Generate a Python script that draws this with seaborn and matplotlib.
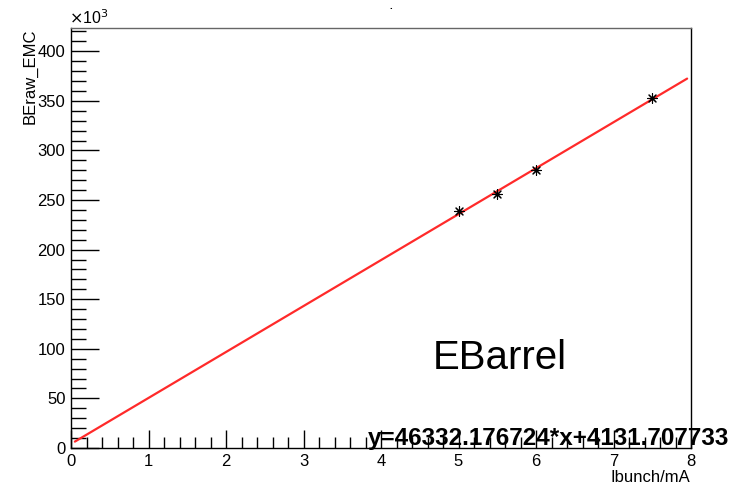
import numpy as np
import pandas as pd
import seaborn as sns
import matplotlib
matplotlib.use("Agg")
import matplotlib.pyplot as plt
from matplotlib.ticker import MultipleLocator, FuncFormatter

sns.set_theme(style="white")
plt.rcParams["font.family"] = ["Liberation Sans", "DejaVu Sans"]
plt.rcParams["text.color"] = "black"
plt.rcParams["xtick.color"] = "black"
plt.rcParams["ytick.color"] = "black"

# Measured points: bunch current (mA) vs raw EMC barrel rate
ibunch = [5.0, 5.5, 6.0, 7.5]
braw = [239000, 256500, 280500, 352500]

# Linear fit parameters
slope = 46332.176724
intercept = 4131.707733
fit_range = [0.05, 7.95]

fit_x = np.linspace(fit_range[0], fit_range[1], 200)
fit_df = pd.DataFrame({"x": fit_x, "y": slope * fit_x + intercept})
pts = pd.DataFrame({"x": ibunch, "y": braw})

fig = plt.figure(figsize=(7.35, 4.87), dpi=100)
ax = fig.add_axes([71 / 735, 1 - 448 / 487, 620 / 735, 420 / 487])

sns.lineplot(data=fit_df, x="x", y="y", ax=ax, color="#ff2a2a", lw=1.6, zorder=2)
sns.scatterplot(data=pts, x="x", y="y", ax=ax, marker=(8, 2, 0), s=50,
                color="black", edgecolor="black", linewidth=0.8, zorder=3)

ax.set_xlim(0, 8)
ax.set_ylim(0, 423500)

ax.xaxis.set_major_locator(MultipleLocator(1))
ax.xaxis.set_minor_locator(MultipleLocator(0.2))
ax.yaxis.set_major_locator(MultipleLocator(50000))
ax.yaxis.set_minor_locator(MultipleLocator(10000))
ax.yaxis.set_major_formatter(FuncFormatter(lambda v, p: f"{v / 1000:g}"))
ax.xaxis.set_major_formatter(FuncFormatter(lambda v, p: f"{v:g}"))

ax.tick_params(axis="y", which="major", direction="in", length=20, width=1,
               labelsize=12, pad=4, color="black", labelcolor="black", left=True)
ax.tick_params(axis="y", which="minor", direction="in", length=11, width=1,
               color="black", left=True)
ax.tick_params(axis="x", which="major", direction="in", length=13, width=1,
               labelsize=12, pad=4, color="black", labelcolor="black", bottom=True)
ax.tick_params(axis="x", which="minor", direction="in", length=8, width=1,
               color="black", bottom=True)

for side in ["left", "bottom", "right"]:
    ax.spines[side].set_color("black")
    ax.spines[side].set_linewidth(1.0)
ax.spines["top"].set_color("#666666")
ax.spines["top"].set_linewidth(1.0)

ax.set_xlabel("")
ax.set_ylabel("")
fig.text(30 / 735, 1 - 28 / 487, "BEraw_EMC", rotation=90, ha="center",
         va="top", fontsize=12)
fig.text(690 / 735, 1 - 478 / 487, "Ibunch/mA", ha="right", va="center",
         fontsize=12)
fig.text(69 / 735, 1 - 18 / 487, r"$\times$10$^{3}$", ha="left", va="center",
         fontsize=11.5)
fig.text(391 / 735, 1 - 6 / 487, ".", ha="center", va="center", fontsize=7,
         fontweight="bold")

ax.text(0.583, 0.215, "EBarrel", transform=ax.transAxes, fontsize=29,
        ha="left", va="center", color="black")
fig.text(729 / 735, 1 - 438 / 487,
         f"y={slope:.6f}*x+{intercept:.6f}", ha="right", va="center",
         fontsize=17.5, fontweight="bold", color="black")

fig.savefig("out.png", dpi=100)
